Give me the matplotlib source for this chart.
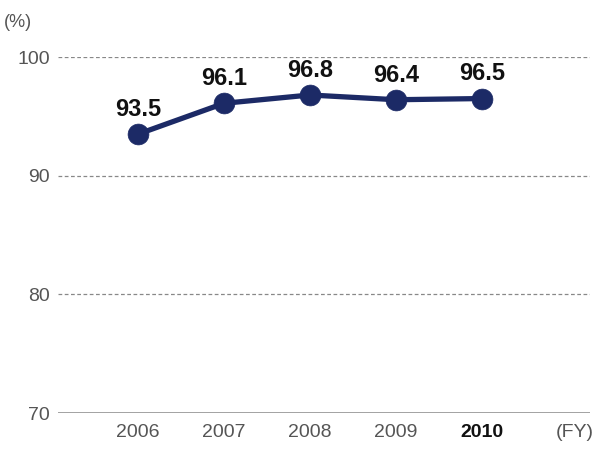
import matplotlib.pyplot as plt

years = ['2006', '2007', '2008', '2009', '2010']
values = [93.5, 96.1, 96.8, 96.4, 96.5]
yticks = [70, 80, 90, 100]

plt.rcParams['font.family'] = ['Liberation Sans', 'DejaVu Sans']

navy = '#1c2a66'
grey = '#555555'

fig = plt.figure(figsize=(5.96, 4.5), dpi=100)
ax = fig.add_axes([0.0973, 0.0822, 0.8927, 0.7911])
x = list(range(len(years)))

ax.set_xlim(-0.93, 5.256)
ax.set_ylim(70, 100)

# grid lines
for t in yticks[1:]:
    ax.axhline(t, color='#888888', lw=0.9, ls=(0, (3, 2)), zorder=1)
ax.axhline(70, color='#999999', lw=2, zorder=1)

ax.plot(x, values, color=navy, lw=3.8, marker='o', markersize=15,
        markerfacecolor=navy, markeredgecolor=navy, markeredgewidth=0.5,
        zorder=3, clip_on=False)

for xi, v in zip(x, values):
    ax.annotate(f'{v:.1f}', (xi, v), xytext=(0, 13), textcoords='offset points',
                ha='center', va='baseline', fontsize=17, fontweight='bold',
                color='#111111', annotation_clip=False)

for s in ax.spines.values():
    s.set_visible(False)

ax.set_yticks(yticks)
ax.set_yticklabels([str(t) for t in yticks], fontsize=14, color=grey)
ax.set_xticks(x)
ax.set_xticklabels(years, fontsize=14, color=grey)
ax.get_xticklabels()[-1].set_fontweight('bold')
ax.get_xticklabels()[-1].set_color('#111111')
ax.tick_params(length=0, axis='y', pad=6)
ax.tick_params(length=0, axis='x', pad=8)

ax.text(5.08, -0.03, '(FY)', transform=ax.get_xaxis_transform(), ha='center',
        va='top', fontsize=14, color=grey)
fig.text(0.03, 0.95, '(%)', ha='center', va='center', fontsize=13, color=grey)

fig.savefig('out.png', dpi=100)
